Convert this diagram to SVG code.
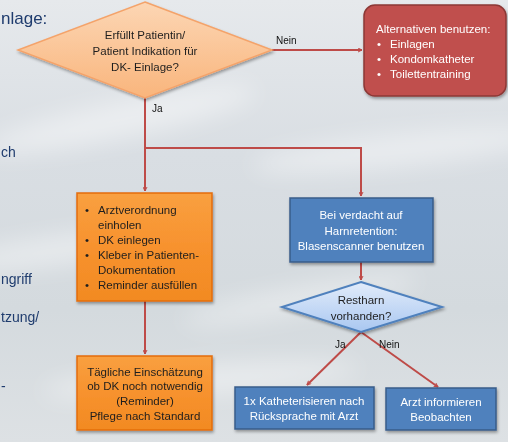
<svg xmlns="http://www.w3.org/2000/svg" width="508" height="442" viewBox="0 0 508 442">
<defs>
<linearGradient id="bg" x1="0" y1="0" x2="0" y2="1">
<stop offset="0" stop-color="#e6e9ec"/>
<stop offset="0.35" stop-color="#d9dee3"/>
<stop offset="0.7" stop-color="#d4dade"/>
<stop offset="1" stop-color="#dde1e4"/>
</linearGradient>
<linearGradient id="peach" x1="0" y1="0" x2="0" y2="1">
<stop offset="0" stop-color="#fcd6b4"/>
<stop offset="1" stop-color="#f9b57c"/>
</linearGradient>
<linearGradient id="orange" x1="0" y1="0" x2="0" y2="1">
<stop offset="0" stop-color="#f9a040"/>
<stop offset="0.5" stop-color="#f7922e"/>
<stop offset="1" stop-color="#f28a22"/>
</linearGradient>
<linearGradient id="lblue" x1="0" y1="0" x2="0" y2="1">
<stop offset="0" stop-color="#e2ecfa"/>
<stop offset="1" stop-color="#a9c7f1"/>
</linearGradient>
<filter id="sh" x="-10%" y="-10%" width="125%" height="130%">
<feDropShadow dx="1" dy="2" stdDeviation="1.5" flood-color="#000" flood-opacity="0.35"/>
</filter>
<filter id="blur"><feGaussianBlur stdDeviation="12"/></filter>
<marker id="ah" viewBox="0 0 10 10" refX="9" refY="5" markerWidth="5" markerHeight="5" orient="auto" markerUnits="userSpaceOnUse">
<path d="M1,1 L9,5 L1,9" fill="none" stroke="#be4b48" stroke-width="2"/>
</marker>
</defs>
<style>
text{font-family:"Liberation Sans","Open Sans",Arial,sans-serif;font-size:11.5px}
.dk{fill:#1e1e1e}
.wt{fill:#ffffff}
.lbl{fill:#111;font-size:10px}
.side{fill:#1f3c6e;font-size:14px}
.con{stroke:#be4b48;stroke-width:2;fill:none}
.blue{fill:#4f81bd;stroke:#385d8a;stroke-width:1.5}
.org{fill:url(#orange);stroke:#e46c0a;stroke-width:1.5}
</style>
<rect width="508" height="442" fill="url(#bg)"/>
<g filter="url(#blur)" fill="#ffffff" opacity="0.45">
<ellipse cx="120" cy="120" rx="140" ry="18" transform="rotate(-12 120 120)"/>
<ellipse cx="60" cy="250" rx="120" ry="14" transform="rotate(-8 60 250)"/>
<ellipse cx="400" cy="150" rx="150" ry="16" transform="rotate(-6 400 150)"/>
<ellipse cx="300" cy="300" rx="120" ry="12" transform="rotate(-10 300 300)"/>
<ellipse cx="200" cy="380" rx="160" ry="14" transform="rotate(-4 200 380)"/>
</g>
<g id="side-text">
<text x="1" y="24" class="side" style="font-size:17px">nlage:</text>
<text x="1" y="157" class="side">ch</text>
<text x="1" y="284" class="side">ngriff</text>
<text x="1" y="322" class="side">tzung/</text>
<text x="1" y="391" class="side">-</text>
</g>
<g id="connectors">
<line x1="272" y1="50" x2="362" y2="50" class="con" marker-end="url(#ah)"/>
<polyline points="145,98 145,191" class="con" marker-end="url(#ah)"/>
<polyline points="145,148 361,148 361,196" class="con" marker-end="url(#ah)"/>
<line x1="145" y1="301" x2="145" y2="354" class="con" marker-end="url(#ah)"/>
<line x1="361" y1="262" x2="361" y2="280" class="con" marker-end="url(#ah)"/>
<line x1="361" y1="332" x2="307" y2="385" class="con" marker-end="url(#ah)"/>
<line x1="361" y1="332" x2="438" y2="387" class="con" marker-end="url(#ah)"/>
<text x="276" y="44" class="lbl">Nein</text>
<text x="152" y="112" class="lbl">Ja</text>
<text x="335" y="348" class="lbl">Ja</text>
<text x="379" y="348" class="lbl">Nein</text>
</g>
<g id="decision1">
<polygon points="145,2 272,50 145,98 18,50" fill="url(#peach)" stroke="#f4a36a" stroke-width="1.5" filter="url(#sh)"/>
<text x="145" y="39" text-anchor="middle" class="dk">Erfüllt Patientin/</text>
<text x="145" y="55" text-anchor="middle" class="dk">Patient Indikation für</text>
<text x="145" y="71" text-anchor="middle" class="dk">DK- Einlage?</text>
</g>
<g id="alternatives">
<rect x="364" y="5" width="142" height="91" rx="11" fill="#c0504d" stroke="#8c3836" stroke-width="1.5" filter="url(#sh)"/>
<text x="376" y="33" class="wt">Alternativen benutzen:</text>
<text x="377" y="48" class="wt">•</text><text x="390" y="48" class="wt">Einlagen</text>
<text x="377" y="63" class="wt">•</text><text x="390" y="63" class="wt">Kondomkatheter</text>
<text x="377" y="78" class="wt">•</text><text x="390" y="78" class="wt">Toilettentraining</text>
</g>
<g id="steps">
<rect x="77" y="193" width="135" height="108" class="org" filter="url(#sh)"/>
<text x="85" y="214" class="dk">•</text><text x="98" y="214" class="dk">Arztverordnung</text>
<text x="98" y="229" class="dk">einholen</text>
<text x="85" y="244" class="dk">•</text><text x="98" y="244" class="dk">DK einlegen</text>
<text x="85" y="259" class="dk">•</text><text x="98" y="259" class="dk">Kleber in Patienten-</text>
<text x="98" y="274" class="dk">Dokumentation</text>
<text x="85" y="289" class="dk">•</text><text x="98" y="289" class="dk">Reminder ausfüllen</text>
</g>
<g id="daily">
<rect x="77" y="356" width="135" height="74" class="org" filter="url(#sh)"/>
<text x="145" y="376" text-anchor="middle" class="dk">Tägliche Einschätzung</text>
<text x="145" y="390" text-anchor="middle" class="dk">ob DK noch notwendig</text>
<text x="145" y="405" text-anchor="middle" class="dk">(Reminder)</text>
<text x="145" y="420" text-anchor="middle" class="dk">Pflege nach Standard</text>
</g>
<g id="scanner">
<rect x="290" y="198" width="143" height="64" class="blue" filter="url(#sh)"/>
<text x="361" y="219" text-anchor="middle" class="wt">Bei verdacht auf</text>
<text x="361" y="235" text-anchor="middle" class="wt">Harnretention:</text>
<text x="361" y="250" text-anchor="middle" class="wt">Blasenscanner benutzen</text>
</g>
<g id="decision2">
<polygon points="361,282 442,307 361,332 282,307" fill="url(#lblue)" stroke="#4f81bd" stroke-width="2" filter="url(#sh)"/>
<text x="361" y="304" text-anchor="middle" class="dk">Restharn</text>
<text x="361" y="320" text-anchor="middle" class="dk">vorhanden?</text>
</g>
<g id="catheter">
<rect x="235" y="387" width="139" height="42" class="blue" filter="url(#sh)"/>
<text x="304" y="405" text-anchor="middle" class="wt">1x Katheterisieren nach</text>
<text x="304" y="420" text-anchor="middle" class="wt">Rücksprache mit Arzt</text>
</g>
<g id="inform">
<rect x="386" y="388" width="110" height="42" class="blue" filter="url(#sh)"/>
<text x="441" y="406" text-anchor="middle" class="wt">Arzt informieren</text>
<text x="441" y="421" text-anchor="middle" class="wt">Beobachten</text>
</g>
</svg>
